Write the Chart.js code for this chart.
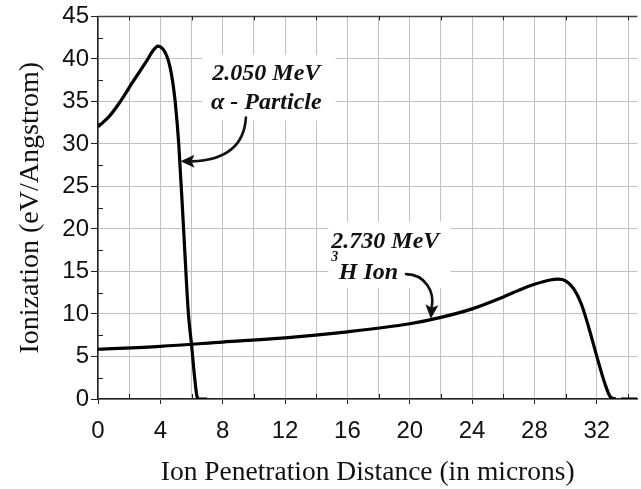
<!DOCTYPE html>
<html><head><meta charset="utf-8">
<script src="https://cdn.jsdelivr.net/npm/chart.js@4.4.1/dist/chart.umd.min.js"></script>
<style>html,body{margin:0;padding:0;background:#fff}#wrap{width:641px;height:489px}</style>
</head><body><div id="wrap"><canvas id="c" width="641" height="489"></canvas></div>
<script>
// ---- data ----
const alphaX = [0, 0.75, 1.4, 2.2, 3.1, 3.5, 3.85, 4.15, 4.4, 4.6, 4.8, 4.95, 5.18, 5.49, 5.8, 6.0, 6.2, 6.34, 6.45, 7.0];
const alphaY = [32.0, 33.3, 34.9, 37.2, 39.7, 40.9, 41.5, 41.2, 40.4, 39.2, 37.2, 35.0, 30.0, 20.0, 10.0, 6.4, 2.5, 0.4, 0, 0];
const tritonX = [0, 4, 8, 12, 16, 20, 22, 24, 26, 27, 28, 29, 29.5, 30, 30.5, 31, 31.5, 32, 32.5, 32.85, 33.2, 33.4, 33.55, 34.6];
const tritonY = [5.85, 6.2, 6.7, 7.2, 7.9, 8.85, 9.6, 10.6, 12.0, 12.8, 13.5, 14.0, 14.1, 13.9, 13.0, 11.2, 8.3, 5.0, 1.9, 0.3, 0, null, 0, 0];
const xTickValues = [0, 2, 4, 6, 8, 10, 12, 14, 16, 18, 20, 22, 24, 26, 28, 30, 32, 34];
const xLabelEvery = 4;
const xMinorTicks = [2, 6, 10, 14, 18, 22, 26, 30, 34];
const yMinorTicks = [2.5, 7.5, 12.5, 17.5, 22.5, 27.5, 32.5, 37.5, 42.5];
const xTitle = 'Ion Penetration Distance (in microns)';
const yTitle = 'Ionization (eV/Angstrom)';
const alphaLabel = ['2.050 MeV', 'α - Particle'];
const tritonLabel = ['2.730 MeV', '3', 'H Ion'];

// annotation placement (data units)
const alphaBox = {x0: 6.69, x1: 15.23, y0: 40.45, y1: 32.76};
const alphaText = {x: 10.8, y1: 37.5, y2: 34.08};
const alphaArrow = [[9.49, 33.1], [9.37, 29.6], [8.09, 28.1], [6.04, 27.95]];
const alphaTip = [5.29, 27.95];
const tritonBox = {x0: 14.78, x1: 22.62, y0: 20.87, y1: 13.06};
const tritonText = {x: 14.97, y1: 17.75, ySup: 16.2, xMain: 15.45, y2: 14.14};
const tritonArrow = [[19.76, 14.69], [21.03, 14.69], [21.6, 12.47], [21.41, 10.84]];
const tritonTip = [21.35, 9.45];

const SANS = "'Liberation Sans', Arial, sans-serif";
const SERIF = "'Liberation Serif', 'Times New Roman', serif";

function pts(xs, ys) { return xs.map((x, i) => ({x: x, y: ys[i]})); }

const decor = {
  id: 'decor',
  beforeDatasetsDraw(chart) {
    const {ctx, chartArea: a, scales: {x: xs, y: ys}} = chart;
    ctx.save();
    ctx.fillStyle = '#fff';
    for (const b of [alphaBox, tritonBox]) {
      const X0 = xs.getPixelForValue(b.x0), X1 = xs.getPixelForValue(b.x1);
      const Y0 = ys.getPixelForValue(b.y0), Y1 = ys.getPixelForValue(b.y1);
      ctx.fillRect(X0, Y0, X1 - X0, Y1 - Y0);
    }
    ctx.strokeStyle = '#444'; ctx.lineWidth = 1.3;
    ctx.beginPath(); ctx.moveTo(a.left, Math.round(a.top) + 0.5); ctx.lineTo(a.right, Math.round(a.top) + 0.5); ctx.stroke();
    ctx.strokeStyle = '#222'; ctx.lineWidth = 1;
    ctx.beginPath();
    for (const v of yMinorTicks) {
      const py = Math.round(ys.getPixelForValue(v)) + 0.5;
      ctx.moveTo(a.left, py); ctx.lineTo(a.left + 5, py);
    }
    for (const v of xMinorTicks) {
      const px = Math.round(xs.getPixelForValue(v)) + 0.5;
      ctx.moveTo(px, a.bottom); ctx.lineTo(px, a.bottom - 5);
      ctx.moveTo(px, a.top); ctx.lineTo(px, a.top + 4);
    }
    ctx.stroke();
    ctx.restore();
  },
  afterDatasetsDraw(chart) {
    const {ctx, scales: {x: xs, y: ys}} = chart;
    const P = p => [xs.getPixelForValue(p[0]), ys.getPixelForValue(p[1])];
    ctx.save();
    ctx.fillStyle = '#111';
    ctx.font = 'italic bold 24px ' + SERIF;
    ctx.textBaseline = 'alphabetic';
    ctx.textAlign = 'center';
    ctx.fillText(alphaLabel[0], xs.getPixelForValue(alphaText.x), ys.getPixelForValue(alphaText.y1));
    ctx.fillText(alphaLabel[1], xs.getPixelForValue(alphaText.x), ys.getPixelForValue(alphaText.y2));
    ctx.textAlign = 'left';
    ctx.fillText(tritonLabel[0], xs.getPixelForValue(tritonText.x), ys.getPixelForValue(tritonText.y1));
    ctx.fillText(tritonLabel[2], xs.getPixelForValue(tritonText.xMain), ys.getPixelForValue(tritonText.y2));
    ctx.font = 'italic bold 14px ' + SERIF;
    ctx.fillText(tritonLabel[1], xs.getPixelForValue(tritonText.x), ys.getPixelForValue(tritonText.ySup));
    ctx.strokeStyle = '#111'; ctx.lineWidth = 2.6; ctx.lineCap = 'round';
    for (const [path, tip] of [[alphaArrow, alphaTip], [tritonArrow, tritonTip]]) {
      const q = path.map(P), t = P(tip);
      ctx.beginPath(); ctx.moveTo(q[0][0], q[0][1]);
      ctx.bezierCurveTo(q[1][0], q[1][1], q[2][0], q[2][1], q[3][0], q[3][1]);
      ctx.stroke();
      const ang = Math.atan2(t[1] - q[3][1], t[0] - q[3][0]);
      const L = 14, W = 6.5;
      const bx = t[0] - L * Math.cos(ang), by = t[1] - L * Math.sin(ang);
      ctx.beginPath();
      ctx.moveTo(t[0], t[1]);
      ctx.lineTo(bx + W * Math.sin(ang), by - W * Math.cos(ang));
      ctx.lineTo(bx + 3 * Math.cos(ang), by + 3 * Math.sin(ang));
      ctx.lineTo(bx - W * Math.sin(ang), by + W * Math.cos(ang));
      ctx.closePath(); ctx.fill();
    }
    ctx.restore();
  }
};

new Chart(document.getElementById('c'), {
  type: 'line',
  data: {
    datasets: [
      {label: '2.050 MeV alpha', data: pts(alphaX, alphaY), borderColor: '#000', borderWidth: 3.2, pointRadius: 0, cubicInterpolationMode: 'monotone', spanGaps: false},
      {label: '2.730 MeV 3H', data: pts(tritonX, tritonY), borderColor: '#000', borderWidth: 3.2, pointRadius: 0, cubicInterpolationMode: 'monotone', spanGaps: false}
    ]
  },
  options: {
    responsive: false, animation: false, devicePixelRatio: 1,
    layout: {padding: {top: 13, right: 0, left: 0, bottom: 0}},
    plugins: {legend: {display: false}, tooltip: {enabled: false}},
    scales: {
      x: {
        type: 'linear', min: 0, max: 34.6,
        afterBuildTicks: s => { s.ticks = xTickValues.map(v => ({value: v})); },
        afterFit: s => { s.height = 90; },
        grid: {color: '#c2c2c2', lineWidth: 1, tickLength: 5,
               tickColor: c => (c.tick && c.tick.value % xLabelEvery === 0) ? '#222' : 'rgba(0,0,0,0)'},
        border: {color: '#222', width: 1.5},
        ticks: {autoSkip: false, maxRotation: 0, padding: 13, color: '#111',
                font: {family: SANS, size: 24},
                callback: v => (v % xLabelEvery === 0 ? String(v) : '')},
        title: {display: true, text: xTitle, color: '#111', font: {family: SERIF, size: 27.5, lineHeight: 1.2}, padding: {top: 0, bottom: 0}}
      },
      y: {
        min: 0, max: 45,
        afterFit: s => { s.width = 98; },
        grid: {color: '#c2c2c2', lineWidth: 1, tickLength: 7, tickColor: '#222'},
        border: {color: '#222', width: 1.5},
        ticks: {stepSize: 5, padding: 2, color: '#111', font: {family: SANS, size: 24}},
        title: {display: true, text: yTitle, color: '#111', font: {family: SERIF, size: 28, lineHeight: 1.2}, padding: {top: 14, bottom: 0}}
      }
    }
  },
  plugins: [decor]
});
</script></body></html>
